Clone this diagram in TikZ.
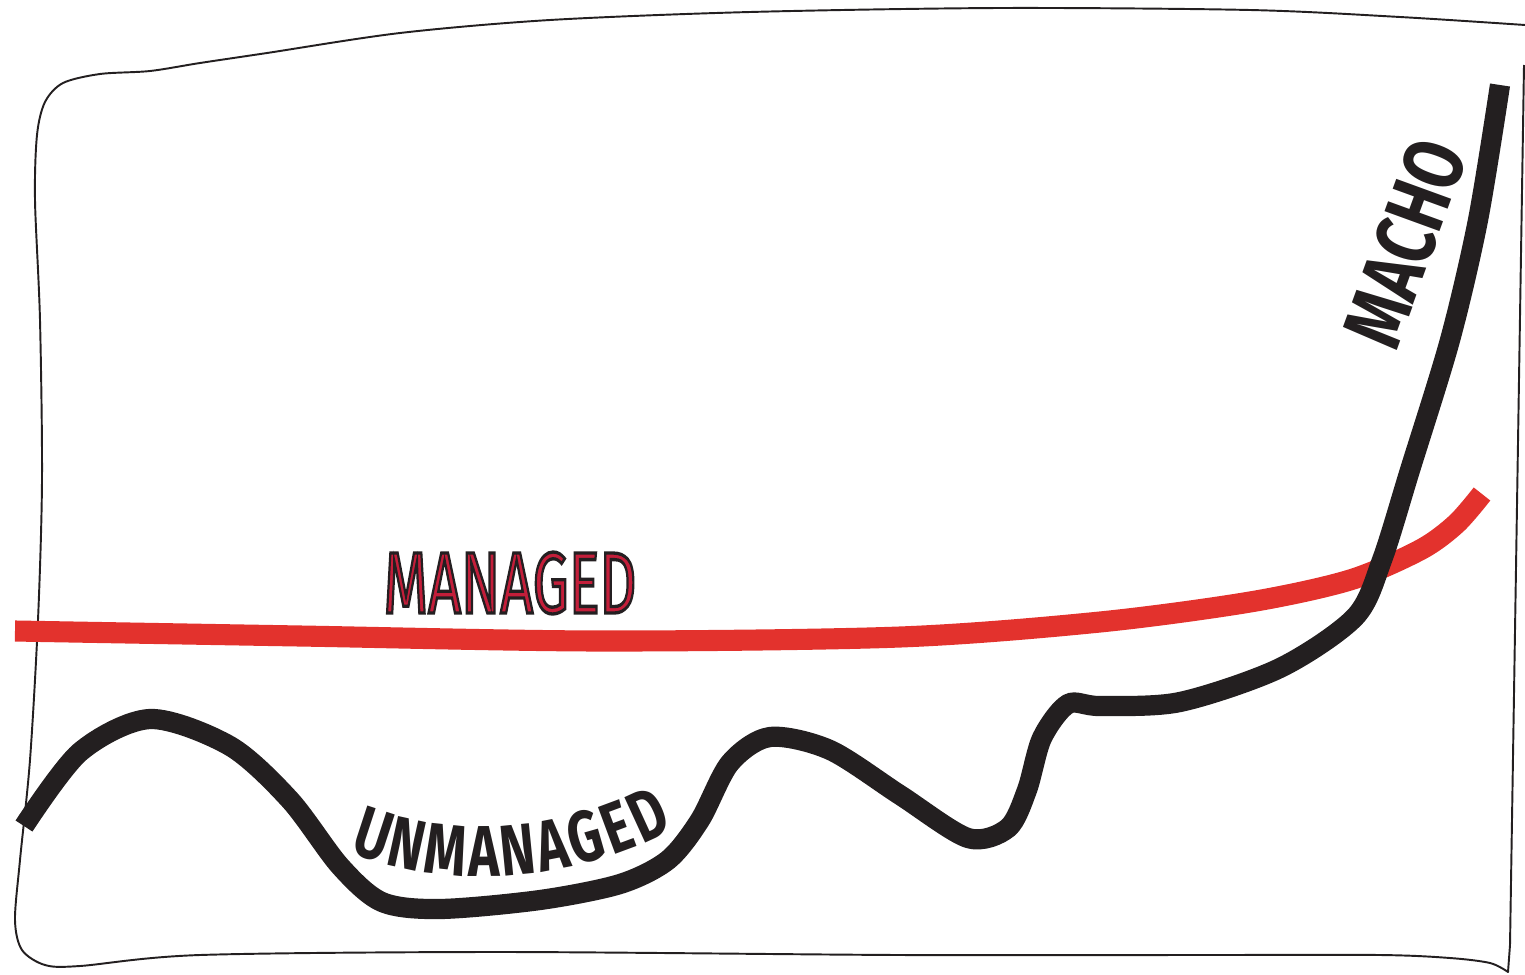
\documentclass[tikz,border=0pt]{standalone}
\usepackage{fontspec}
\usepackage{graphicx}
\setmainfont{Fira Sans}
\newfontfamily\stencilfont{Fira Sans}
\usetikzlibrary{calc}
\definecolor{inkblack}{RGB}{35,31,32}
\definecolor{linered}{RGB}{227,50,45}
\definecolor{labelred}{RGB}{196,30,58}
\newcommand{\outlinetext}[1]{\special{pdf:literal direct 2 Tr 1.9 w 0.14 0.12 0.13 RG}#1\special{pdf:literal direct 0 Tr}}
\newcommand{\narrow}[2]{\scalebox{#1}[1]{#2}}

\begin{document}
\begin{tikzpicture}[
    x=0.02cm, y=-0.02cm,
    frame/.style={draw=inkblack, line width=1.1pt, line join=round},
    blackcurve/.style={draw=inkblack, line width=11.5pt},
    redcurve/.style={draw=linered, line width=12pt},
    redlabel/.style={inner sep=0pt, text=labelred, font=\stencilfont\fontsize{49.5}{54}\selectfont},
    blacklabel/.style={inner sep=0pt, text=inkblack, font=\stencilfont\bfseries\fontsize{48}{52}\selectfont},
    letter/.style={inner sep=0pt, text=inkblack, font=\stencilfont\bfseries\fontsize{41}{44}\selectfont, sloped, anchor=base}
]
\useasboundingbox (0,0) rectangle (1525,974);

\draw[frame] plot[smooth] coordinates {(1525,25) (1400,17) (1250,10) (1000,8) (750,12) (550,20) (400,33) (267,53) (200,63) (150,71) (100,74) (63,83) (45,102) (37,135) (35,200) (40,320) (42,480) (38,620) (30,760) (20,860) (15,920) (22,950) (45,965) (80,966) (200,955) (500,952) (900,955) (1200,955) (1380,955) (1450,958) (1490,963) (1508,972)}
    -- (1510,945) -- (1524,65);

\draw[redcurve] plot[smooth] coordinates {(15,631) (300,636) (600,641) (900,637) (1100,622) (1250,602) (1350,580) (1420,550) (1456,524) (1482,494)};

\draw[blackcurve] plot[smooth] coordinates {(24,826) (80,752) (150,719) (230,746) (290,800) (340,866) (382,902) (440,909) (540,900) (620,884) (668,860) (700,820) (730,763) (770,737) (830,750) (900,795) (968,838) (1008,828) (1027,790) (1042,738) (1068,704) (1100,706) (1180,702) (1280,668) (1355,617) (1382,560) (1410,470) (1450,340) (1478,220) (1500,85)};

\node[redlabel] (managed) at (510,583) {\narrow{0.66}{\outlinetext{MANAGED}}};
\node[blacklabel, rotate=70] (macho) at (1405,243) {\narrow{0.76}{MACHO}};

\path (348,852) .. controls (455,893) and (570,882) .. (676,828)
    \foreach \ch/\p [count=\i] in {U/0.055, N/0.166, M/0.291, A/0.414, N/0.524, A/0.634, G/0.742, E/0.842, D/0.943}
    {node[letter, pos=\p] (unmanaged\i) {\narrow{0.74}{\ch}}};
\end{tikzpicture}
\end{document}
